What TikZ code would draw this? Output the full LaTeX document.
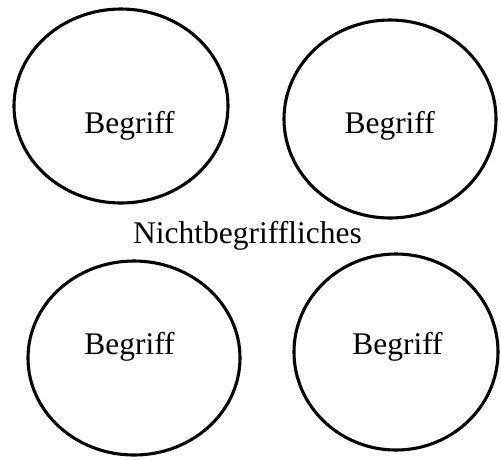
\documentclass[tikz,border=0pt]{standalone}
\usepackage{fontspec}
\setmainfont{Liberation Serif}
\usetikzlibrary{shapes.geometric}
\begin{document}
\begin{tikzpicture}[x=1pt,y=-1pt,
  blob/.style={draw=black,line width=3.1pt,ellipse,inner sep=0pt},
  lab/.style={anchor=base,inner sep=0pt,font=\fontsize{31.5}{36}\selectfont}]
\useasboundingbox (0,0) rectangle (501,459);
\node[blob,minimum width=214pt,minimum height=194pt] (e1) at (121,106) {};
\node[blob,minimum width=212pt,minimum height=198pt] (e2) at (390,119) {};
\node[blob,minimum width=212pt,minimum height=194pt] (e3) at (134,358) {};
\node[blob,minimum width=204pt,minimum height=196pt] (e4) at (396,352) {};
\node[lab] (t1) at (129.5,133) {Begriff};
\node[lab] (t2) at (389.7,133) {Begriff};
\node[lab] (t3) at (129.5,354) {Begriff};
\node[lab] (t4) at (397.5,354) {Begriff};
\node[lab] (n) at (247.5,243) {Nichtbegriffliches};
\end{tikzpicture}
\end{document}
